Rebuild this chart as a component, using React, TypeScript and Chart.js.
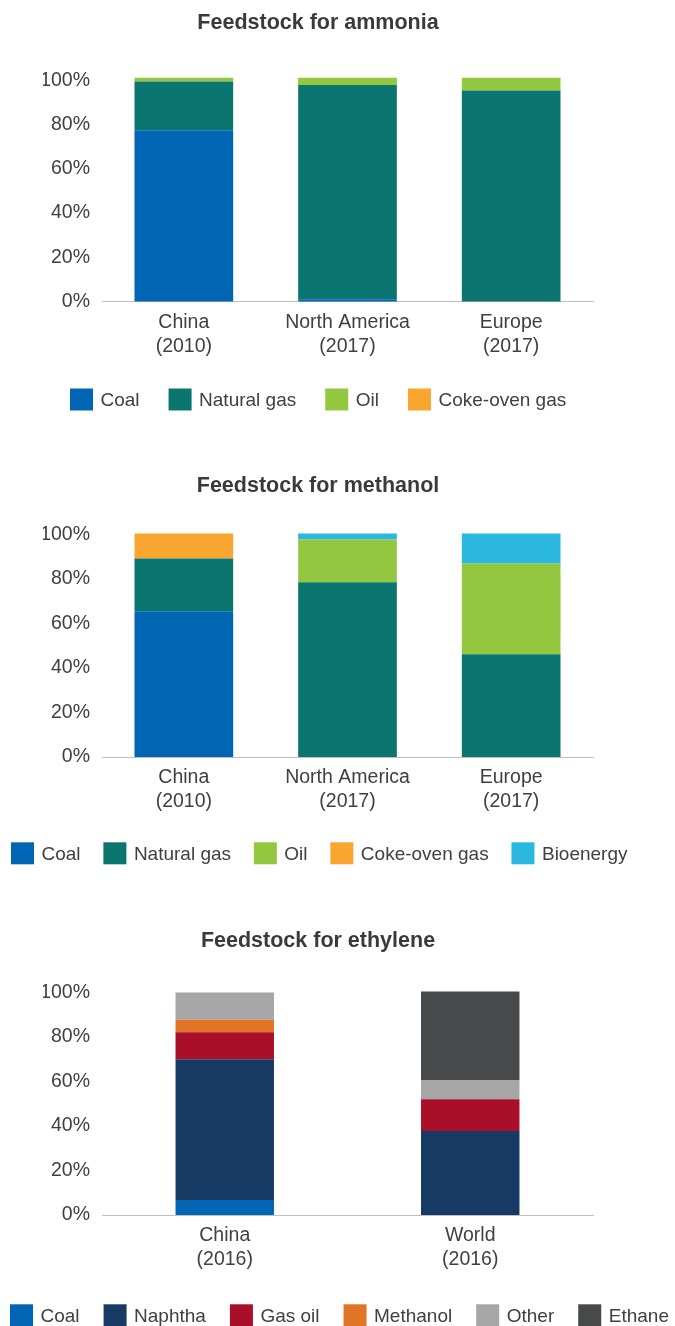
import React, { useEffect, useRef } from 'react';
import { Chart, registerables } from 'chart.js';

Chart.register(...registerables);

const FONT = '"Liberation Sans", Arial, sans-serif';
const TEXT = '#404040';
const TITLE = '#3a3a3a';

// ---------- Data ----------
const ammoniaCategories = [['China', '(2010)'], ['North America', '(2017)'], ['Europe', '(2017)']];
const ammoniaCoal = [77.5, 1, 0];
const ammoniaGas = [22, 97, 95.5];
const ammoniaOil = [1.8, 3.2, 5.8];
const ammoniaCoke = [0, 0, 0];

const methanolCategories = [['China', '(2010)'], ['North America', '(2017)'], ['Europe', '(2017)']];
const methanolCoal = [65.5, 0, 0];
const methanolGas = [23.7, 78.5, 46.2];
const methanolOil = [0, 19.3, 40.8];
const methanolCoke = [11.2, 0, 0];
const methanolBio = [0, 2.6, 13.4];

const ethyleneCategories = [['China', '(2016)'], ['World', '(2016)']];
const ethyleneCoal = [6.7, 0];
const ethyleneNaphtha = [63.3, 37.7];
const ethyleneGasOil = [12.1, 14.3];
const ethyleneMethanol = [5.8, 0];
const ethyleneOther = [12.1, 8.5];
const ethyleneEthane = [0, 39.9];

const yTickStep = 20;

const COLORS = {
  coal: '#0066b3',
  gas: '#0b756f',
  oil: '#92c73f',
  coke: '#f9a630',
  bio: '#2bb8e0',
  naphtha: '#173a65',
  gasOil: '#a90f29',
  methanol: '#e07527',
  other: '#a6a6a6',
  ethane: '#48494b',
};

// ---------- Legend plugin (draws dataset labels/colours) ----------
const sheetLegend = {
  id: 'sheetLegend',
  afterDraw(chart: any, _args: any, opts: any) {
    const { ctx } = chart;
    ctx.save();
    ctx.font = `${opts.fontSize}px ${FONT}`;
    ctx.textBaseline = 'middle';
    ctx.textAlign = 'left';
    let x = opts.x;
    chart.data.datasets.forEach((ds: any) => {
      const w = ctx.measureText(ds.label).width;
      ctx.fillStyle = ds.backgroundColor;
      ctx.fillRect(x, opts.y - opts.boxHeight / 2, opts.boxWidth, opts.boxHeight);
      ctx.fillStyle = TEXT;
      ctx.fillText(ds.label, x + opts.boxWidth + opts.gap, opts.y + 1);
      x += opts.boxWidth + opts.gap + w + opts.spacing;
    });
    ctx.restore();
  },
};

type Series = { label: string; data: number[]; color: string };
type Spec = {
  title: string;
  labels: string[][];
  series: Series[];
  barPct: number;
  padBottom: number;
  titleTop: number;
  titleBottom: number;
  legendX: number;
  legendY: number;
  legendSpacing: number;
};

function makeConfig(spec: Spec): any {
  return {
    type: 'bar',
    data: {
      labels: spec.labels,
      datasets: spec.series.map((s) => ({
        label: s.label,
        data: s.data,
        backgroundColor: s.color,
        borderWidth: 0,
        barPercentage: spec.barPct,
        categoryPercentage: 1,
        clip: false,
      })),
    },
    options: {
      responsive: false,
      animation: false,
      events: [],
      layout: { padding: { left: 43, right: 82, top: 0, bottom: spec.padBottom } },
      plugins: {
        legend: { display: false },
        tooltip: { enabled: false },
        title: {
          display: true,
          text: spec.title,
          color: TITLE,
          font: { family: FONT, size: 21.5, weight: 'bold', lineHeight: 1.2 },
          padding: { top: spec.titleTop, bottom: spec.titleBottom },
        },
        sheetLegend: {
          x: spec.legendX,
          y: spec.legendY,
          spacing: spec.legendSpacing,
          boxWidth: 23,
          boxHeight: 22,
          gap: 7.5,
          fontSize: 19,
        },
      },
      scales: {
        x: {
          stacked: true,
          grid: { display: false, drawTicks: false },
          border: { display: true, color: '#bfbfbf', width: 1 },
          ticks: {
            color: TEXT,
            font: { family: FONT, size: 19.5, lineHeight: '24px' },
            padding: 9,
            maxRotation: 0,
            autoSkip: false,
          },
          afterFit: (s: any) => {
            s.height = 60;
          },
        },
        y: {
          stacked: true,
          min: 0,
          max: 100,
          grid: { display: false, drawTicks: false },
          border: { display: false },
          ticks: {
            stepSize: yTickStep,
            color: TEXT,
            font: { family: FONT, size: 19.5 },
            padding: 12,
            callback: (v: any) => `${v}%`,
          },
          afterFit: (s: any) => {
            s.width = 59;
          },
        },
      },
    },
    plugins: [sheetLegend],
  };
}

const specs: { top: number; height: number; make: () => Spec }[] = [
  {
    top: 0,
    height: 430,
    make: () => ({
      title: 'Feedstock for ammonia',
      labels: ammoniaCategories,
      series: [
        { label: 'Coal', data: ammoniaCoal, color: COLORS.coal },
        { label: 'Natural gas', data: ammoniaGas, color: COLORS.gas },
        { label: 'Oil', data: ammoniaOil, color: COLORS.oil },
        { label: 'Coke-oven gas', data: ammoniaCoke, color: COLORS.coke },
      ],
      barPct: 0.603,
      padBottom: 68.5,
      titleTop: 10.6,
      titleBottom: 44.1,
      legendX: 70,
      legendY: 399.5,
      legendSpacing: 29,
    }),
  },
  {
    top: 430,
    height: 460,
    make: () => ({
      title: 'Feedstock for methanol',
      labels: methanolCategories,
      series: [
        { label: 'Coal', data: methanolCoal, color: COLORS.coal },
        { label: 'Natural gas', data: methanolGas, color: COLORS.gas },
        { label: 'Oil', data: methanolOil, color: COLORS.oil },
        { label: 'Coke-oven gas', data: methanolCoke, color: COLORS.coke },
        { label: 'Bioenergy', data: methanolBio, color: COLORS.bio },
      ],
      barPct: 0.603,
      padBottom: 73,
      titleTop: 43.6,
      titleBottom: 35.1,
      legendX: 11,
      legendY: 423.3,
      legendSpacing: 22.8,
    }),
  },
  {
    top: 890,
    height: 436,
    make: () => ({
      title: 'Feedstock for ethylene',
      labels: ethyleneCategories,
      series: [
        { label: 'Coal', data: ethyleneCoal, color: COLORS.coal },
        { label: 'Naphtha', data: ethyleneNaphtha, color: COLORS.naphtha },
        { label: 'Gas oil', data: ethyleneGasOil, color: COLORS.gasOil },
        { label: 'Methanol', data: ethyleneMethanol, color: COLORS.methanol },
        { label: 'Other', data: ethyleneOther, color: COLORS.other },
        { label: 'Ethane', data: ethyleneEthane, color: COLORS.ethane },
      ],
      barPct: 0.401,
      padBottom: 51,
      titleTop: 38.3,
      titleBottom: 38.4,
      legendX: 10,
      legendY: 425.3,
      legendSpacing: 24,
    }),
  },
];

function ChartCanvas({ top, height, make }: { top: number; height: number; make: () => Spec }) {
  const ref = useRef<HTMLCanvasElement | null>(null);
  useEffect(() => {
    if (!ref.current) return;
    const chart = new Chart(ref.current, makeConfig(make()));
    return () => chart.destroy();
  }, []);
  return (
    <canvas
      ref={ref}
      width={675}
      height={height}
      style={{ position: 'absolute', left: 0, top, width: 675, height, display: 'block' }}
    />
  );
}

export default function App() {
  return (
    <div
      style={{
        position: 'fixed',
        left: 0,
        top: 0,
        width: 675,
        height: 1326,
        background: '#ffffff',
        overflow: 'hidden',
      }}
    >
      {specs.map((s, i) => (
        <ChartCanvas key={i} top={s.top} height={s.height} make={s.make} />
      ))}
    </div>
  );
}
